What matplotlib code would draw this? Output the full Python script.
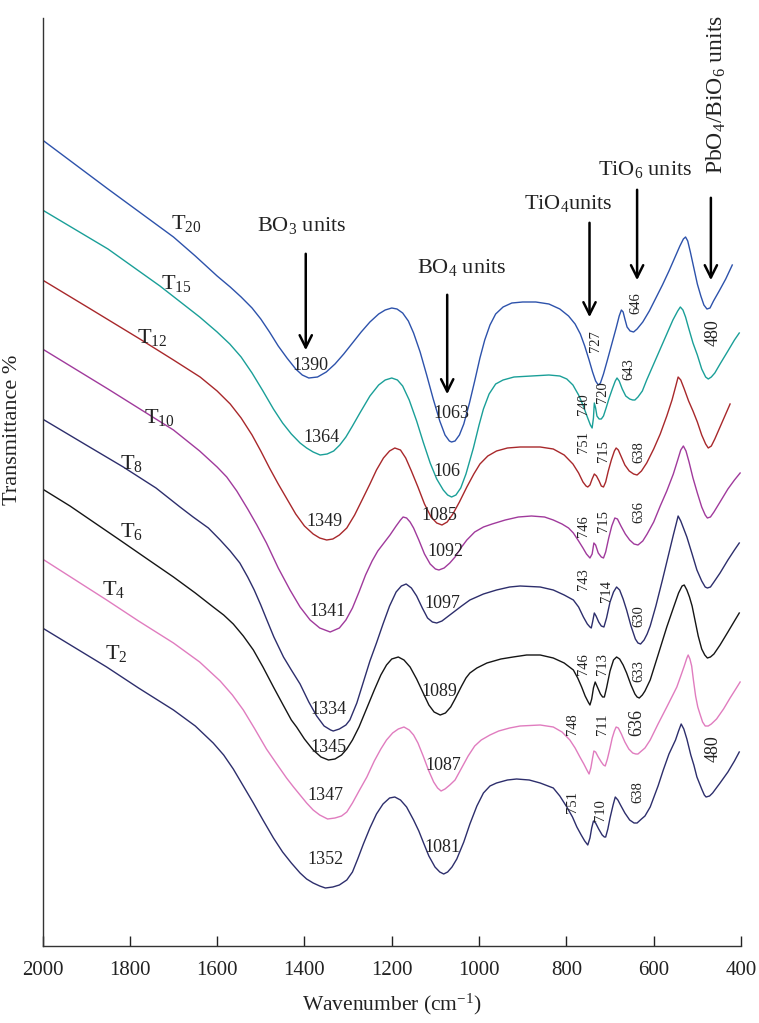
import matplotlib
matplotlib.use("Agg")
import matplotlib.pyplot as plt

plt.rcParams["font.family"] = ["Liberation Serif", "DejaVu Serif"]
plt.rcParams["mathtext.fontset"] = "custom"
plt.rcParams["mathtext.rm"] = "Liberation Serif"
plt.rcParams["mathtext.it"] = "Liberation Serif:italic"
plt.rcParams["mathtext.bf"] = "Liberation Serif:bold"

# FTIR spectra, wavenumber (cm-1) vs transmittance (a.u., stacked)
wn_T20 = [2000, 1850, 1700, 1650, 1600, 1570, 1545, 1520, 1500, 1480, 1460, 1440, 1420, 1405, 1390,
          1370, 1350, 1330, 1310, 1290, 1270, 1250, 1230, 1215, 1200, 1188, 1175, 1162, 1150, 1135,
          1120, 1105, 1090, 1078, 1068, 1063, 1055, 1045, 1035, 1022, 1010, 998, 987, 975, 962,
          945, 925, 900, 870, 840, 815, 795, 780, 768, 758, 748, 740, 733, 727, 722, 715, 706,
          696, 686, 679, 674, 670, 666, 661, 654, 646, 638, 625, 610, 595, 580, 565, 552, 540,
          532, 527, 522, 516, 508, 500, 492, 485, 478, 471, 463, 450, 435, 420]
tr_T20 = [806, 757, 709, 690, 670, 659, 649, 638, 627, 614, 600, 588, 577, 571, 568,
          569, 574, 582, 592, 603, 614, 624, 632, 636, 638, 637, 633, 625, 613, 594,
          571, 547, 525, 511, 505, 504, 505, 511, 522, 543, 565, 588, 606, 621, 632,
          639, 643, 644, 644, 642, 637, 630, 622, 612, 600, 586, 574, 565, 561, 563, 572, 586,
          602, 618, 630, 636, 634, 627, 619, 615, 614, 617, 624, 635, 648, 661, 675, 688, 700,
          707, 709, 705, 694, 678, 662, 650, 641, 637, 638, 645, 655, 667, 681]

wn_T15 = [2000, 1850, 1731, 1640, 1600, 1571, 1545, 1520, 1495, 1471, 1450, 1430, 1410, 1395, 1380,
          1364, 1348, 1333, 1319, 1305, 1290, 1273, 1250, 1230, 1215, 1200, 1187, 1175, 1160, 1143,
          1128, 1112, 1097, 1082, 1072, 1063, 1053, 1042, 1030, 1013, 1000, 990, 977, 962, 945,
          920, 880, 840, 815, 799, 785, 772, 762, 752, 745, 741, 738, 736, 733, 730, 725, 720,
          715, 709, 702, 694, 688, 684, 679, 672, 664, 655, 648, 643, 636, 626, 616, 600, 585,
          570, 556, 545, 539, 533, 527, 520, 510, 500, 490, 481, 475, 468, 460, 448, 430, 415, 404]
tr_T15 = [736, 697, 660, 629, 614, 602, 589, 573, 555, 537, 523, 512, 503, 498, 494,
          491, 492, 495, 501, 509, 520, 533, 550, 561, 566, 568, 566, 560, 546, 525,
          504, 483, 467, 456, 451, 449, 451, 458, 472, 498, 521, 537, 552, 562, 566,
          569, 570, 571, 570, 567, 561, 551, 541, 529, 521, 518, 528, 543, 538, 530, 527, 527,
          530, 538, 548, 558, 565, 568, 565, 557, 550, 547, 546, 546, 549, 555, 566, 582, 597,
          612, 626, 635, 639, 636, 629, 618, 603, 591, 577, 569, 567, 569, 573, 582, 595, 606, 613]

wn_T12 = [2000, 1890, 1777, 1700, 1639, 1600, 1570, 1545, 1520, 1500, 1480, 1460, 1440, 1420, 1400,
          1380, 1365, 1349, 1335, 1320, 1303, 1285, 1268, 1250, 1235, 1219, 1205, 1193, 1180, 1168,
          1155, 1140, 1125, 1110, 1097, 1085, 1073, 1060, 1045, 1028, 1012, 998, 980, 960, 935,
          906, 860, 830, 805, 785, 772, 762, 755, 751, 746, 741, 736, 731, 725, 720, 715, 710,
          704, 697, 690, 686, 681, 674, 666, 656, 646, 638, 628, 616, 600, 585, 570, 558, 550,
          544, 538, 530, 520, 510, 500, 490, 481, 475, 468, 460, 448, 437, 425]
tr_T12 = [666, 637, 607, 586, 569, 555, 542, 528, 511, 495, 478, 462, 447, 432, 420,
          412, 408, 406, 407, 411, 418, 431, 446, 462, 476, 488, 495, 498, 496, 488,
          475, 459, 442, 429, 423, 421, 424, 432, 444, 459, 472, 482, 490, 495, 498,
          499, 499, 497, 491, 482, 473, 464, 460, 459, 461, 467, 472, 470, 465, 460, 459, 464,
          475, 486, 495, 498, 496, 489, 481, 475, 472, 471, 475, 483, 497, 512, 530, 546, 559,
          569, 566, 557, 545, 535, 524, 511, 502, 498, 500, 507, 519, 530, 542]

wn_T10 = [2000, 1850, 1700, 1640, 1600, 1578, 1555, 1530, 1509, 1487, 1460, 1433, 1410, 1387, 1365,
          1341, 1320, 1305, 1290, 1275, 1260, 1245, 1232, 1218, 1204, 1190, 1180, 1174, 1166, 1158,
          1150, 1138, 1125, 1112, 1100, 1092, 1080, 1067, 1055, 1040, 1028, 1010, 990, 970, 940,
          910, 880, 850, 830, 810, 795, 784, 772, 762, 754, 746, 741, 737, 733, 727, 720, 715,
          710, 703, 696, 689, 683, 675, 665, 655, 645, 636, 625, 615, 600, 585, 570, 555, 545,
          538, 532, 526, 519, 510, 500, 490, 482, 477, 470, 462, 448, 430, 415, 402]
tr_T10 = [597, 557, 516, 495, 479, 469, 455, 437, 421, 403, 378, 356, 339, 326, 318,
          314, 318, 326, 338, 354, 371, 385, 395, 403, 411, 420, 426, 429, 428, 424,
          418, 406, 392, 382, 377, 376, 378, 383, 389, 399, 406, 414, 419, 422, 426,
          429, 430, 429, 426, 422, 418, 413, 405, 398, 392, 388, 392, 403, 401, 393, 389, 388,
          394, 408, 420, 428, 427, 420, 412, 406, 402, 401, 405, 412, 424, 440, 455, 472, 486,
          496, 500, 495, 484, 468, 453, 439, 431, 428, 429, 434, 444, 457, 466, 473]

wn_T8 = [2000, 1900, 1815, 1740, 1685, 1655, 1620, 1593, 1570, 1548, 1530, 1515, 1500, 1487, 1470,
         1448, 1430, 1410, 1390, 1372, 1355, 1340, 1334, 1320, 1305, 1296, 1280, 1265, 1250, 1235,
         1220, 1205, 1190, 1178, 1167, 1155, 1143, 1130, 1118, 1107, 1097, 1085, 1070, 1055, 1040,
         1021, 990, 960, 930, 906, 860, 830, 805, 784, 772, 761, 752, 746, 743, 740, 736, 732,
         726, 720, 714, 708, 700, 692, 685, 678, 670, 662, 652, 642, 636, 630, 622, 615, 608,
         595, 580, 565, 555, 548, 544, 538, 531, 524, 512, 501, 490, 482, 477, 470, 462, 448,
         430, 415, 404]
tr_T8 = [527, 501, 479, 458, 439, 429, 418, 406, 395, 383, 369, 356, 341, 327, 309,
         289, 276, 262, 244, 230, 220, 216, 215, 217, 221, 226, 243, 264, 285, 303,
         322, 340, 354, 360, 362, 358, 350, 338, 328, 324, 323, 325, 330, 335, 340,
         346, 352, 356, 359, 360, 359, 356, 351, 346, 339, 329, 322, 319, 318, 324, 333, 330,
         324, 320, 319, 328, 344, 354, 359, 356, 347, 336, 320, 307, 303, 302, 306, 312, 320,
         340, 366, 393, 411, 423, 430, 425, 417, 409, 392, 376, 365, 359, 358, 359, 364, 373,
         386, 396, 403]

wn_T6 = [2000, 1937, 1823, 1760, 1700, 1650, 1609, 1585, 1563, 1540, 1517, 1495, 1471, 1450, 1430,
         1418, 1400, 1380, 1362, 1345, 1330, 1315, 1303, 1290, 1275, 1257, 1240, 1225, 1212, 1200,
         1185, 1172, 1158, 1143, 1128, 1115, 1103, 1089, 1077, 1065, 1055, 1040, 1030, 1021, 1005,
         982, 950, 922, 891, 860, 830, 805, 784, 774, 765, 757, 750, 746, 742, 738, 734, 729,
         722, 717, 713, 708, 700, 692, 685, 678, 670, 662, 652, 643, 638, 633, 626, 620, 608,
         590, 570, 555, 543, 535, 530, 524, 518, 512, 505, 498, 490, 483, 477, 470, 462, 448,
         430, 415, 404]
tr_T6 = [457, 440, 406, 387, 369, 353, 339, 331, 322, 310, 296, 279, 259, 242, 226,
         219, 207, 196, 189, 186, 187, 191, 197, 206, 219, 238, 256, 271, 281, 287,
         289, 286, 279, 267, 253, 241, 234, 231, 233, 239, 247, 260, 268, 273, 278,
         283, 287, 289, 291, 291, 288, 283, 276, 268, 259, 250, 244, 241, 247, 258, 264, 259,
         252, 249, 249, 258, 275, 286, 289, 287, 281, 273, 261, 252, 249, 248, 251, 255, 266,
         291, 319, 338, 353, 360, 361, 356, 349, 340, 325, 310, 297, 291, 288, 289, 292, 301,
         314, 325, 333]

wn_T4 = [2000, 1853, 1780, 1700, 1640, 1593, 1565, 1540, 1515, 1487, 1465, 1441, 1425, 1410, 1395,
         1380, 1365, 1347, 1330, 1315, 1303, 1290, 1275, 1257, 1240, 1225, 1212, 1198, 1185, 1172,
         1160, 1150, 1140, 1128, 1116, 1104, 1095, 1087, 1078, 1067, 1055, 1040, 1025, 1010, 995,
         975, 955, 930, 906, 860, 830, 810, 792, 780, 769, 760, 753, 748, 744, 740, 737, 733,
         727, 720, 715, 711, 706, 700, 695, 690, 686, 681, 674, 666, 657, 648, 641, 636, 628,
         620, 608, 590, 570, 555, 547, 538, 530, 524, 521, 517, 513, 509, 504, 499, 494, 488,
         482, 475, 468, 456, 440, 425, 412, 402]
tr_T4 = [387, 346, 325, 303, 284, 265, 251, 236, 218, 197, 183, 168, 159, 151, 143,
         136, 131, 127, 128, 130, 134, 143, 155, 169, 185, 197, 206, 213, 217, 219,
         216, 211, 203, 190, 176, 164, 158, 155, 157, 161, 166, 178, 190, 200, 206,
         211, 215, 218, 220, 221, 219, 214, 206, 198, 189, 182, 176, 172, 178, 188, 195, 194,
         189, 184, 181, 180, 187, 198, 208, 215, 219, 218, 212, 204, 197, 193, 192, 192, 195,
         198, 206, 222, 239, 252, 259, 270, 280, 288, 291, 287, 280, 266, 250, 239, 232, 224,
         220, 220, 222, 227, 237, 248, 257, 264]

wn_T2 = [2000, 1853, 1780, 1700, 1650, 1609, 1585, 1563, 1540, 1517, 1495, 1471, 1450, 1430, 1410,
         1395, 1380, 1365, 1352, 1335, 1320, 1303, 1290, 1278, 1265, 1250, 1235, 1220, 1205, 1193,
         1180, 1166, 1150, 1138, 1128, 1115, 1101, 1090, 1081, 1072, 1062, 1051, 1035, 1021, 1005,
         990, 975, 960, 935, 914, 885, 860, 830, 815, 799, 786, 776, 766, 758, 751, 746, 742,
         738, 733, 726, 718, 713, 710, 705, 700, 693, 688, 682, 676, 666, 655, 645, 638, 628,
         620, 608, 590, 578, 565, 550, 543, 537, 531, 524, 515, 508, 501, 490, 484, 480, 472,
         465, 448, 430, 415, 404]
tr_T2 = [318, 279, 258, 236, 220, 203, 191, 177, 160, 143, 126, 108, 94, 83, 73,
         67, 63, 60, 58, 59, 61, 66, 74, 87, 102, 118, 132, 142, 148, 149,
         146, 139, 126, 115, 104, 90, 79, 74, 72, 74, 79, 87, 104, 122, 140,
         153, 160, 163, 166, 167, 166, 163, 158, 150, 139, 129, 119, 111, 105, 101, 108, 118,
         125, 123, 117, 111, 109, 109, 117, 128, 141, 149, 146, 141, 133, 126, 123, 123, 127,
         130, 139, 160, 176, 192, 206, 215, 222, 217, 207, 191, 181, 169, 157, 151, 149, 150,
         153, 163, 174, 185, 194]

series = [
    (wn_T20, tr_T20, "#2d52ab", "T$_{20}$", 1671, 723),
    (wn_T15, tr_T15, "#1a9f98", "T$_{15}$", 1694, 663),
    (wn_T12, tr_T12, "#a8282b", "T$_{12}$", 1749, 608),
    (wn_T10, tr_T10, "#a03a9c", "T$_{10}$", 1733, 529),
    (wn_T8, tr_T8, "#2d2e6c", "T$_{8}$", 1797, 483),
    (wn_T6, tr_T6, "#151515", "T$_{6}$", 1797, 414),
    (wn_T4, tr_T4, "#e07cbf", "T$_{4}$", 1836, 357),
    (wn_T2, tr_T2, "#2d2e6c", "T$_{2}$", 1832, 292),
]

# band positions written beside the curves: (text, x, y, rotation, size)
peak_labels = [
    ("1390", 1387, 581, 0, 13), ("1364", 1360, 509, 0, 13), ("1349", 1353, 425, 0, 13),
    ("1341", 1346, 334, 0, 13), ("1334", 1344, 237, 0, 13), ("1345", 1344, 199, 0, 13),
    ("1347", 1351, 150, 0, 13), ("1352", 1351, 87, 0, 13),
    ("1063", 1064, 532, 0, 13), ("106", 1073, 474, 0, 13), ("1085", 1092, 431, 0, 13),
    ("1092", 1078, 395, 0, 13), ("1097", 1083, 342, 0, 13), ("1089", 1092, 255, 0, 13),
    ("1087", 1083, 180, 0, 13), ("1081", 1083, 98, 0, 13),
    ("727", 733, 605, 90, 10.5), ("646", 641, 643, 90, 10.5), ("480", 464, 613, 90, 13),
    ("740", 760, 542, 90, 10.5), ("720", 718, 554, 90, 10.5), ("643", 656, 577, 90, 10.5),
    ("751", 760, 504, 90, 10.5), ("715", 714, 495, 90, 10.5), ("638", 634, 494, 90, 10.5),
    ("746", 760, 420, 90, 10.5), ("715", 714, 425, 90, 10.5), ("636", 634, 434, 90, 10.5),
    ("743", 760, 367, 90, 10.5), ("714", 709, 355, 90, 10.5), ("630", 634, 330, 90, 10.5),
    ("746", 760, 282, 90, 10.5), ("713", 718, 282, 90, 10.5), ("633", 634, 275, 90, 10.5),
    ("748", 787, 222, 90, 10.5), ("711", 718, 222, 90, 10.5), ("636", 638, 223, 90, 13),
    ("751", 787, 144, 90, 10.5), ("710", 721, 136, 90, 10.5), ("638", 636, 154, 90, 10.5),
    ("480", 464, 197, 90, 13),
]

# structural unit assignments: (text, text x, text y, rotation, size, arrow x, arrow top, arrow tip)
unit_labels = [
    ("BO$_3$ units", 1406, 721, 0, 16, 1397, 695, 593),
    ("BO$_4$ units", 1041, 679, 0, 16, 1073, 654, 549),
    ("TiO$_4$units", 796, 743, 0, 16, 747, 726, 626),
    ("TiO$_6$ units", 620, 777, 0, 16, 638, 759, 663),
    ("PbO$_4$/BiO$_6$ units", 457, 852, 90, 17, 469, 751, 663),
]

fig = plt.figure(figsize=(7.59, 10.23), dpi=100)
ax = fig.add_axes([42.5 / 759, 77 / 1023, 698.5 / 759, 928 / 1023])

for wn, tr, color, name, lx, ly in series:
    ax.plot(wn, tr, color=color, lw=1.0, solid_joinstyle="round")
    ax.text(lx, ly, name, fontsize=16, ha="center", va="center", color="#222222")

for txt, x, y, rot, size in peak_labels:
    ax.text(x, y, txt, fontsize=size, rotation=rot, ha="center", va="center", color="#222222")

for txt, tx, ty, rot, size, ax_x, y0, y1 in unit_labels:
    ax.text(tx, ty, txt, fontsize=size, rotation=rot, ha="center", va="center", color="#222222")
    ax.annotate("", xy=(ax_x, y1), xytext=(ax_x, y0),
                arrowprops=dict(arrowstyle="->", lw=1.8, color="black", mutation_scale=22))

ax.set_xlim(2000, 400)
ax.set_ylim(0, 928)
ax.set_xticks(range(2000, 399, -200))
ax.set_yticks([])
ax.tick_params(axis="x", direction="in", length=7, width=1, labelsize=15, pad=11, colors="#222222")
for side in ["top", "right"]:
    ax.spines[side].set_visible(False)
for side in ["left", "bottom"]:
    ax.spines[side].set_color("#333333")
    ax.spines[side].set_linewidth(1.0)

ax.set_xlabel("Wavenumber (cm$^{-1}$)", fontsize=15.5, color="#222222", labelpad=8)
ax.set_ylabel("Transmittance %", fontsize=16, color="#222222")
ax.yaxis.set_label_coords(-0.029, 0.556)

fig.savefig("out.png", dpi=100)
